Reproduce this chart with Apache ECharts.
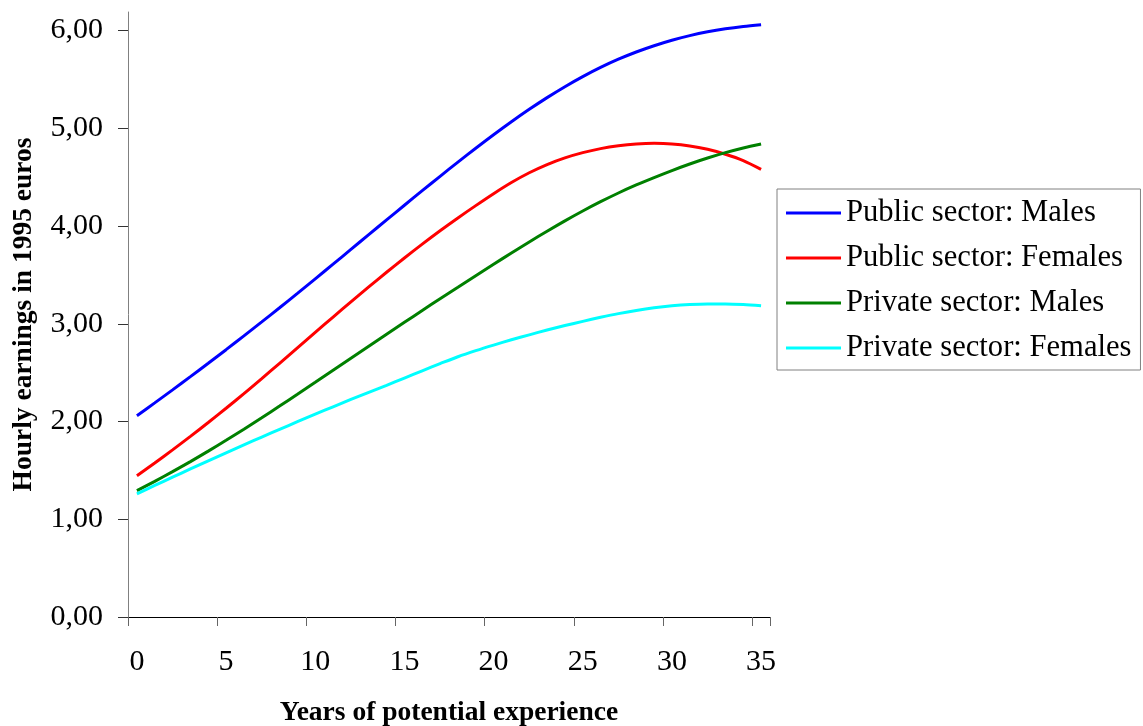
<!DOCTYPE html>
<html>
<head>
<meta charset="utf-8">
<script src="https://cdn.jsdelivr.net/npm/echarts@6/dist/echarts.min.js"></script>
<style>
html,body{margin:0;padding:0;background:#fff;}
#chart{width:1143px;height:726px;}
</style>
</head>
<body>
<div id="chart"></div>
<script>
const years = ['0','1','2','3','4','5','6','7','8','9','10','11','12','13','14','15','16','17','18','19','20','21','22','23','24','25','26','27','28','29','30','31','32','33','34','35'];
const publicMales = [2.060,2.191,2.324,2.459,2.596,2.735,2.876,3.019,3.164,3.311,3.460,3.610,3.761,3.912,4.063,4.213,4.362,4.509,4.654,4.796,4.934,5.067,5.194,5.314,5.426,5.529,5.623,5.707,5.781,5.845,5.901,5.948,5.987,6.018,6.042,6.060];
const publicFemales = [1.446,1.576,1.710,1.848,1.990,2.136,2.285,2.439,2.596,2.754,2.912,3.069,3.224,3.377,3.527,3.673,3.815,3.952,4.083,4.209,4.331,4.445,4.545,4.629,4.697,4.751,4.792,4.821,4.839,4.846,4.840,4.820,4.785,4.735,4.670,4.580];
const privateMales = [1.293,1.388,1.487,1.590,1.697,1.808,1.922,2.039,2.158,2.279,2.401,2.524,2.647,2.770,2.893,3.015,3.136,3.256,3.374,3.492,3.609,3.724,3.837,3.947,4.053,4.154,4.249,4.338,4.420,4.496,4.568,4.635,4.696,4.751,4.799,4.840];
const privateFemales = [1.260,1.346,1.431,1.515,1.598,1.680,1.761,1.841,1.920,1.998,2.075,2.151,2.226,2.299,2.370,2.445,2.519,2.592,2.663,2.725,2.782,2.836,2.887,2.936,2.982,3.025,3.066,3.104,3.137,3.164,3.184,3.197,3.203,3.203,3.197,3.185];
const yTicks = [0,1,2,3,4,5,6];
const seriesNames = ['Public sector: Males','Public sector: Females','Private sector: Males','Private sector: Females'];
const seriesColors = ['#0000ff','#ff0000','#008000','#00ffff'];
const seriesData = [publicMales, publicFemales, privateMales, privateFemales];

const FONT = "'Liberation Serif','Times New Roman',serif";
const chart = echarts.init(document.getElementById('chart'), null, {renderer:'canvas'});
chart.setOption({
  animation: false,
  backgroundColor: '#fff',
  grid: {left: 128, right: 373, top: 12, bottom: 109, containLabel: false, outerBoundsMode: 'none'},
  legend: {
    orient: 'vertical',
    left: 777, top: 189,
    padding: [7, 9, 5, 9],
    itemWidth: 55, itemHeight: 3, itemGap: 11,
    borderColor: '#808080', borderWidth: 1,
    textStyle: {fontFamily: FONT, fontSize: 30.6, color: '#000', lineHeight: 34},
    data: seriesNames.map(n => ({name: n, icon: 'rect'}))
  },
  xAxis: {
    type: 'category',
    data: years,
    boundaryGap: true,
    name: 'Years of potential experience',
    nameLocation: 'middle',
    nameGap: 82,
    nameTextStyle: {fontFamily: FONT, fontSize: 27.5, fontWeight: 'bold', color: '#000'},
    axisLine: {lineStyle: {color: '#000', width: 1}},
    axisTick: {show: true, interval: 4, alignWithLabel: false, length: 9, lineStyle: {color: '#666'}},
    axisLabel: {interval: 4, margin: 30, fontFamily: FONT, fontSize: 30, color: '#000'},
    splitLine: {show: false}
  },
  yAxis: {
    type: 'value',
    min: 0, max: 6.19, interval: 1,
    name: 'Hourly earnings in 1995 euros',
    nameLocation: 'middle',
    nameGap: 90,
    nameTextStyle: {fontFamily: FONT, fontSize: 27.5, fontWeight: 'bold', color: '#000'},
    axisLine: {show: true, lineStyle: {color: '#808080', width: 1}},
    axisTick: {show: true, length: 10, customValues: yTicks, lineStyle: {color: '#333'}},
    axisLabel: {customValues: yTicks, margin: 25, fontFamily: FONT, fontSize: 30, color: '#000',
      formatter: v => v.toFixed(2).replace('.', ',')},
    splitLine: {show: false}
  },
  series: seriesNames.map((n, i) => ({
    name: n, type: 'line', data: seriesData[i],
    symbol: 'none', smooth: 0.3,
    itemStyle: {color: seriesColors[i]},
    lineStyle: {color: seriesColors[i], width: 3}
  }))
});
</script>
</body>
</html>
